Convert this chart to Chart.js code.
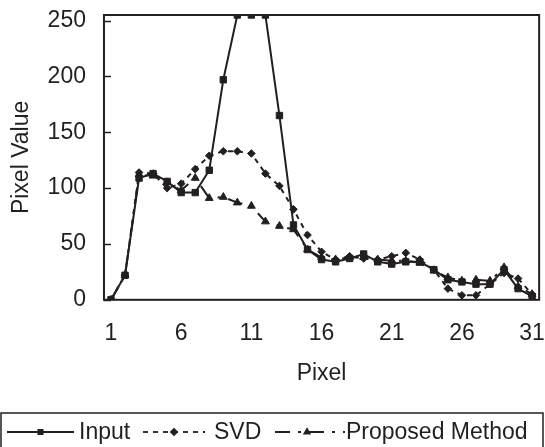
<!DOCTYPE html>
<html>
<head>
<meta charset="utf-8">
<script src="https://cdn.jsdelivr.net/npm/chart.js@4"></script>
<style>
  html, body { margin: 0; padding: 0; background: #fff; }
  #wrap { width: 545px; height: 447px; }
</style>
</head>
<body>
<div id="wrap"><canvas id="pixelChart"></canvas></div>
<script>
// pixel index along the profile
const pixels = [1, 2, 3, 4, 5, 6, 7, 8, 9, 10, 11, 12, 13, 14, 15, 16, 17, 18, 19, 20, 21, 22, 23, 24, 25, 26, 27, 28, 29, 30, 31];
const inputValues = [0, 22, 109, 113, 106, 96, 96, 116, 197, 255, 255, 255, 165, 67, 45, 36, 34, 37, 41, 34, 32, 34, 34, 27, 18, 16, 14, 14, 27, 10, 3];
const svdValues = [0, 22, 114, 113, 100, 104, 117, 129, 133, 133, 131, 113, 102, 81, 58, 43, 36, 39, 37, 36, 39, 42, 36, 27, 10, 4, 4, 14, 24, 19, 5];
const proposedValues = [0, 22, 112, 111, 105, 98, 109, 91, 92, 87, 84, 70, 66, 63, 45, 38, 36, 38, 38, 36, 35, 35, 33, 26, 20, 17, 18, 17, 29, 12, 5];
const xTickLabels = [1, 6, 11, 16, 21, 26, 31];
const yTickLabels = [0, 50, 100, 150, 200, 250];

const ink = '#231f20';
const fontFamily = '"Liberation Sans", Arial, sans-serif';

function toPoints(values) {
    return values.map((v, i) => ({ x: pixels[i], y: v }));
}

// frame around the plot area plus inward tick marks on the value axis
const frameBox = {
    id: 'frameBox',
    afterDatasetsDraw(chart) {
        const a = chart.chartArea;
        const ctx = chart.ctx;
        const yScale = chart.scales.y;
        ctx.save();
        ctx.strokeStyle = ink;
        ctx.lineWidth = 2;
        ctx.strokeRect(a.left, a.top, a.right - a.left, a.bottom - a.top);
        ctx.lineWidth = 1.5;
        yTickLabels.forEach(v => {
            const py = Math.round(yScale.getPixelForValue(v)) + 0.5;
            ctx.beginPath();
            ctx.moveTo(a.left, py);
            ctx.lineTo(a.left + 7, py);
            ctx.stroke();
        });
        ctx.restore();
    }
};

// legend row in a box at the bottom, line sample with marker in the middle
const boxLegend = {
    id: 'boxLegend',
    afterDraw(chart) {
        const ctx = chart.ctx;
        const top = 413;
        const cy = 432;
        ctx.save();
        ctx.strokeStyle = ink;
        ctx.lineWidth = 1.5;
        ctx.strokeRect(1, top, 542, 40);
        ctx.font = '23px ' + fontFamily;
        ctx.textBaseline = 'middle';
        ctx.fillStyle = ink;
        const items = [
            { ds: chart.data.datasets[0], x0: 7, x1: 74, tx: 79 },
            { ds: chart.data.datasets[1], x0: 143, x1: 205, tx: 214 },
            { ds: chart.data.datasets[2], x0: 275, x1: 345, tx: 346 }
        ];
        items.forEach(it => {
            ctx.beginPath();
            ctx.strokeStyle = ink;
            ctx.setLineDash(it.ds.borderDash || []);
            ctx.lineWidth = 1.8;
            ctx.moveTo(it.x0, cy);
            ctx.lineTo(it.x1, cy);
            ctx.stroke();
            ctx.setLineDash([]);
            ctx.fillStyle = ink;
            Chart.helpers.drawPoint(ctx, {
                pointStyle: it.ds.pointStyle,
                radius: 3,
                rotation: 0,
                borderWidth: 1
            }, (it.x0 + it.x1) / 2 + (it.ds.pointStyle === 'triangle' ? -3 : 0), cy);
            ctx.fillText(it.ds.label, it.tx, cy + 1);
        });
        ctx.restore();
    }
};

new Chart(document.getElementById('pixelChart'), {
    type: 'line',
    data: {
        datasets: [{
            label: 'Input',
            data: toPoints(inputValues),
            borderColor: ink,
            backgroundColor: ink,
            borderWidth: 2,
            pointStyle: 'rect',
            pointRadius: 4.5,
            pointBorderWidth: 1
        }, {
            label: 'SVD',
            data: toPoints(svdValues),
            borderColor: ink,
            backgroundColor: ink,
            borderWidth: 2,
            borderDash: [5, 5],
            pointStyle: 'rectRot',
            pointRadius: 3.8,
            pointBorderWidth: 1
        }, {
            label: 'Proposed Method',
            data: toPoints(proposedValues),
            borderColor: ink,
            backgroundColor: ink,
            borderWidth: 2,
            borderDash: [15, 8, 3, 8],
            pointStyle: 'triangle',
            pointRadius: 4.5,
            pointBorderWidth: 1
        }]
    },
    options: {
        responsive: true,
        maintainAspectRatio: false,
        animation: false,
        layout: {
            padding: { top: 15, right: 3, left: 0, bottom: 60 }
        },
        plugins: {
            legend: { display: false },
            tooltip: { enabled: false }
        },
        scales: {
            x: {
                type: 'linear',
                min: 0.5,
                max: 31.5,
                afterBuildTicks: axis => {
                    axis.ticks = xTickLabels.map(v => ({ value: v }));
                },
                grid: {
                    drawOnChartArea: false,
                    drawTicks: true,
                    tickLength: 20,
                    color: 'rgba(0,0,0,0)'
                },
                border: { display: false },
                ticks: {
                    color: ink,
                    padding: 0,
                    maxRotation: 0,
                    font: { family: fontFamily, size: 23 }
                },
                title: {
                    display: true,
                    text: 'Pixel',
                    color: ink,
                    padding: { top: 12, bottom: 0 },
                    font: { family: fontFamily, size: 23 }
                }
            },
            y: {
                min: 0,
                max: 255,
                afterBuildTicks: axis => {
                    axis.ticks = yTickLabels.map(v => ({ value: v }));
                },
                grid: {
                    drawOnChartArea: false,
                    drawTicks: true,
                    tickLength: 18,
                    color: 'rgba(0,0,0,0)'
                },
                border: { display: false },
                ticks: {
                    color: ink,
                    padding: 0,
                    font: { family: fontFamily, size: 23 }
                },
                title: {
                    display: true,
                    text: 'Pixel Value',
                    color: ink,
                    padding: { top: 8, bottom: 12 },
                    font: { family: fontFamily, size: 23 }
                }
            }
        }
    },
    plugins: [frameBox, boxLegend]
});
</script>
</body>
</html>
